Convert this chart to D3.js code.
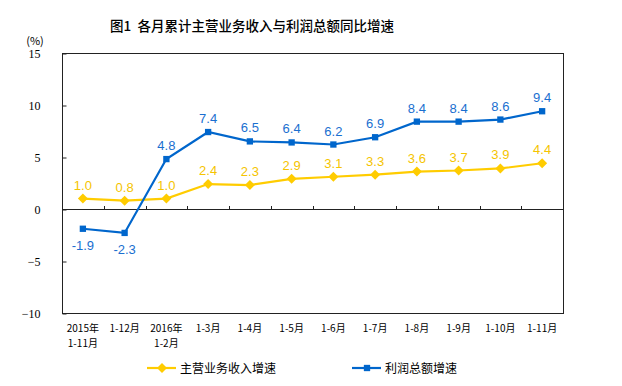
<!DOCTYPE html>
<head>
  <meta charset="utf-8">
  <script src="https://d3js.org/d3.v7.min.js"></script>
  <style>
    body { margin: 0; background: #fff; }
  </style>
</head>
<body>
<svg width="622" height="386"></svg>
<script>

  const months = [["2015年", "1-11月"], ["1-12月"], ["2016年", "1-2月"], ["1-3月"], ["1-4月"], ["1-5月"],
    ["1-6月"], ["1-7月"], ["1-8月"], ["1-9月"], ["1-10月"], ["1-11月"]];
  const revenue = [1.0, 0.8, 1.0, 2.4, 2.3, 2.9, 3.1, 3.3, 3.6, 3.7, 3.9, 4.4];
  const profit = [-1.9, -2.3, 4.8, 7.4, 6.5, 6.4, 6.2, 6.9, 8.4, 8.4, 8.6, 9.4];
  const yTicks = [-10, -5, 0, 5, 10, 15];

  let svg = d3.select("svg"),
    plotLeft = 62, plotRight = 563, plotTop = 53, plotBottom = 313;

  let x = d3.scaleBand().domain(d3.range(months.length)).range([plotLeft, plotRight]);
  let y = d3.scaleLinear().domain([-10, 15]).range([plotBottom, plotTop]);
  let cx = i => x(i) + x.bandwidth() / 2;

  let yellow = "#ffcc00", yellowText = "#f5c400", blue = "#0066cc";
  let cjk = "'Noto Sans CJK SC', sans-serif";

  // title
  svg.append("text")
    .attr("x", 252).attr("y", 31)
    .attr("text-anchor", "middle")
    .attr("font-family", cjk)
    .attr("font-size", 13.5)
    .attr("font-weight", 500)
    .text("图1\u00a0\u00a0各月累计主营业务收入与利润总额同比增速");

  svg.append("text")
    .attr("x", 35).attr("y", 45)
    .attr("text-anchor", "middle")
    .attr("font-family", cjk)
    .attr("font-size", 11)
    .text("(%)");

  // frame
  svg.append("rect")
    .attr("x", plotLeft + 0.5).attr("y", plotTop + 0.5)
    .attr("width", plotRight - plotLeft).attr("height", plotBottom - plotTop)
    .attr("fill", "none").attr("stroke", "#222").attr("stroke-width", 1);

  // y axis
  let yAxis = svg.append("g")
    .attr("transform", `translate(${plotLeft + 0.5},0.5)`)
    .call(d3.axisLeft(y).tickValues(yTicks).tickSize(-4).tickPadding(22));
  yAxis.select(".domain").remove();
  yAxis.selectAll("line").attr("stroke", "#222");
  yAxis.selectAll("text")
    .attr("font-family", "'Liberation Serif', serif")
    .attr("font-size", 12)
    .attr("fill", "#000");

  // zero line with upward ticks between categories
  let y0 = Math.round(y(0)) + 0.5;
  svg.append("line")
    .attr("x1", plotLeft).attr("x2", plotRight)
    .attr("y1", y0).attr("y2", y0)
    .attr("stroke", "#222");
  svg.selectAll(".xtick")
    .data(d3.range(1, months.length))
    .join("line")
    .attr("x1", i => Math.round(x(i)) + 0.5).attr("x2", i => Math.round(x(i)) + 0.5)
    .attr("y1", y0 - 3.5).attr("y2", y0)
    .attr("stroke", "#222");

  // x labels
  let xl = svg.selectAll(".xlab")
    .data(months)
    .join("text")
    .attr("text-anchor", "middle")
    .attr("font-family", cjk)
    .attr("font-size", 10)
    .attr("fill", "#000");
  xl.each(function (d, i) {
    d3.select(this).selectAll("tspan")
      .data(d)
      .join("tspan")
      .attr("x", cx(i))
      .attr("y", (t, j) => 332 + j * 15)
      .text(t => t);
  });

  // diamond = square turned by 45 degrees
  function drawSeries(vals, color, textColor, size, rot, below) {
    svg.append("path")
      .datum(vals)
      .attr("fill", "none")
      .attr("stroke", color)
      .attr("stroke-width", 2.2)
      .attr("d", d3.line().x((d, i) => cx(i)).y(d => y(d)));
    svg.selectAll(null)
      .data(vals)
      .join("path")
      .attr("transform", (d, i) => `translate(${cx(i)},${y(d)}) rotate(${rot})`)
      .attr("fill", color)
      .attr("d", d3.symbol().type(d3.symbolSquare).size(size));
    svg.selectAll(null)
      .data(vals)
      .join("text")
      .attr("x", (d, i) => cx(i))
      .attr("y", d => d < 0 && below ? y(d) + 21 : y(d) - 9)
      .attr("text-anchor", "middle")
      .attr("font-family", "'Liberation Sans', Arial, sans-serif")
      .attr("font-size", 13)
      .attr("fill", textColor)
      .text(d => d.toFixed(1));
  }

  drawSeries(revenue, yellow, yellowText, 50, 45, false);
  drawSeries(profit, blue, "#1a6fd0", 40, 0, true);

  // legend
  let legend = [
    {name: "主营业务收入增速", color: yellow, size: 50, rot: 45, x: 147},
    {name: "利润总额增速", color: blue, size: 40, rot: 0, x: 352}
  ];
  let lg = svg.selectAll(".lg").data(legend).join("g")
    .attr("transform", d => `translate(${d.x},368)`);
  lg.append("line").attr("x1", 0).attr("x2", 29)
    .attr("stroke", d => d.color).attr("stroke-width", 2.2);
  lg.append("path").attr("transform", d => `translate(15,0) rotate(${d.rot})`)
    .attr("fill", d => d.color)
    .attr("d", d => d3.symbol().type(d3.symbolSquare).size(d.size)());
  lg.append("text").attr("x", 33).attr("y", 4.5)
    .attr("font-family", cjk).attr("font-size", 12)
    .text(d => d.name);

</script>
</body>
